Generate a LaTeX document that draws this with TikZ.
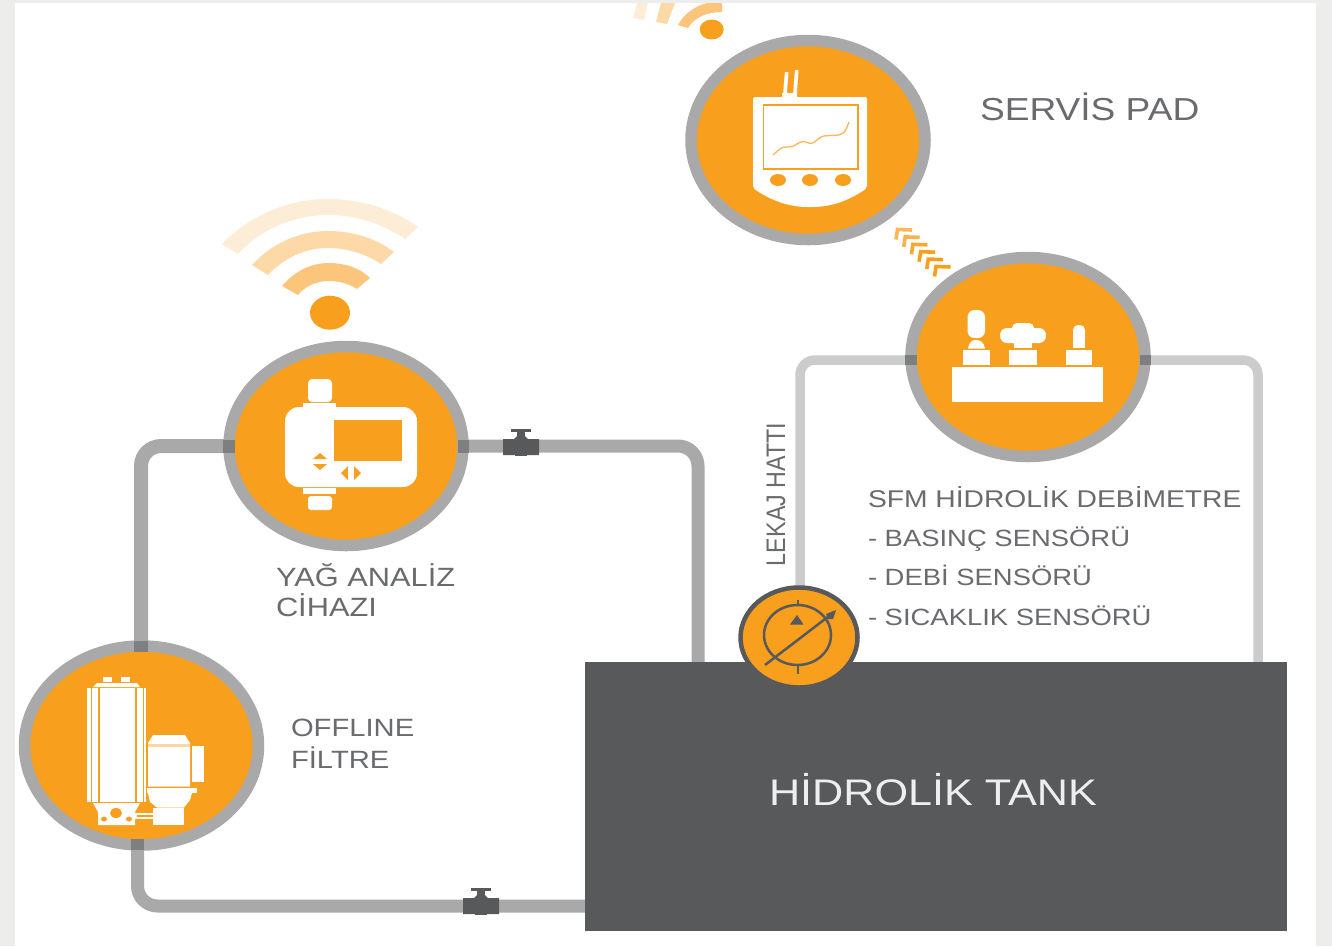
\documentclass[tikz,border=0pt]{standalone}
\usepackage{fontspec}
\setmainfont{Liberation Sans}
\usetikzlibrary{shapes.geometric}
\definecolor{orangeF}{HTML}{F99F1E}
\definecolor{ringG}{HTML}{A9A9A9}
\definecolor{darkG}{HTML}{58595B}
\definecolor{overG}{HTML}{7E7F80}
\definecolor{lightP}{HTML}{CCCCCC}
\definecolor{txtG}{HTML}{6A6B6E}
\definecolor{bgG}{HTML}{EDEDEB}
\definecolor{wa}{HTML}{FBC67C}
\definecolor{wb}{HTML}{FDD9A8}
\definecolor{wc}{HTML}{FEEDD6}
\tikzset{
  x=1pt,y=-1pt,
  bigcirc/.style={ellipse,draw=ringG,fill=orangeF,line width=11.5pt,inner sep=0pt,outer sep=0pt,minimum width=234pt,minimum height=199pt},
  pumpcirc/.style={ellipse,draw=darkG,fill=orangeF,line width=4.5pt,inner sep=0pt,outer sep=0pt,minimum width=117pt,minimum height=100pt},
  tankbox/.style={rectangle,fill=darkG,inner sep=0pt,outer sep=0pt,minimum width=702pt,minimum height=269pt},
  pipeA/.style={draw=ringG,line width=13pt,rounded corners=20pt},
  pipeB/.style={draw=lightP,line width=9.5pt,rounded corners=15pt},
  overA/.style={draw=overG,line width=13pt},
  overB/.style={draw=overG,line width=9.5pt},
  lab/.style={anchor=base west,inner sep=0pt,outer sep=0pt,text=txtG,xscale=1.167,transform shape},
  valvepic/.pic={
    \fill[darkG] (-18,-7) -- (-7,-7) -- (-4,-10) -- (4,-10) -- (7,-7) -- (18,-7) -- (18,9) -- (-18,9) -- cycle;
    \fill[darkG] (-4,-15) rectangle (4,-8);
    \fill[darkG] (-10,-17) rectangle (10,-14.5);
    \fill[darkG] (-6,8) rectangle (6,10);
  }
}
\begin{document}
\begin{tikzpicture}
\useasboundingbox (0,0) rectangle (1332,946);
\fill[bgG] (0,0) rectangle (1332,946);
\fill[white] (15,3) rectangle (1316,946);

% named free ends
\coordinate (leftdrop) at (698,662);
\coordinate (rightdrop) at (1258,662);
\coordinate (lowstart) at (137.5,845);
\coordinate (lowend) at (585,906);
\coordinate (sfmL) at (905,360);
\coordinate (sfmR) at (1151,360);
\coordinate (yagL) at (229,446);
\coordinate (yagR) at (463,446);
\coordinate (pumpN) at (800,600);
\coordinate (filtN) at (141,647);

% pipes
\draw[pipeA] (yagR) -| (leftdrop);
\draw[pipeA,line width=14pt] (yagL) -| (filtN);
\draw[pipeA] (lowstart) |- (lowend);
\draw[pipeB] (sfmL) -| (pumpN);
\draw[pipeB] (sfmR) -| (rightdrop);

% tank and main circles
\node[tankbox] (tank) at (936,796.5) {};
\node[bigcirc] (pad) at (808,140) {};
\node[bigcirc] (yag) at (346,446) {};
\node[bigcirc] (filt) at (141.5,745.5) {};
\node[bigcirc] (sfm) at (1028,357) {};
\node[pumpcirc] (pump) at (799,637.5) {};

% pipe overlaps on the rings
\draw[overA] (223,446) -- (235,446);
\draw[overA] (458,446) -- (469,446);
\draw[overA,line width=14pt] (141,641) -- (141,652);
\draw[overA] (137.5,839) -- (137.5,850);
\draw[overB] (905,360) -- (917,360);
\draw[overB] (1140,360) -- (1151,360);

% valves
\pic at (521,446) {valvepic};
\pic at (481,905) {valvepic};

% wifi large
\fill[wa] (282,286) .. controls (296,270) and (312,263) .. (329,263) .. controls (345,263) and (360,268) .. (370,278) -- (357,289) .. controls (349,284) and (340,281) .. (329,281) .. controls (317,281) and (305,286) .. (298,295) -- cycle;
\fill[wb] (252,265) .. controls (272,243) and (300,231) .. (328,231) .. controls (352,231) and (376,238) .. (394,252) -- (381,264) .. controls (366,254) and (347,248) .. (328,248) .. controls (305,248) and (284,258) .. (268,275) -- cycle;
\fill[wc] (222,244) .. controls (250,215) and (289,199) .. (328,199) .. controls (361,199) and (393,209) .. (418,227) -- (405,239) .. controls (383,224) and (356,215) .. (328,215) .. controls (293,215) and (260,230) .. (238,254) -- cycle;
\fill[orangeF] (330,312.7) ellipse [x radius=20,y radius=17];

% wifi small
\fill[wa] (678,25) .. controls (684,14) and (695,6) .. (707,3) -- (722,3) -- (722,12) .. controls (706,12) and (694,18) .. (688,28) -- cycle;
\fill[wb] (656,22) -- (661,3) -- (675,3) -- (667,24) -- cycle;
\fill[wc] (633,18) -- (637,3) -- (648,3) -- (644,20) -- cycle;
\fill[orangeF] (711.7,29.5) ellipse [x radius=12,y radius=10];

% chevrons
\foreach \i/\o in {0/0.75,1/0.8,2/0.9,3/1,4/1,5/1}{
  \draw[orangeF,opacity=\o,line width=3.6pt] ({912+7.7*\i},{230+7.4*\i}) -- ({897.5+7.7*\i},{229.5+7.4*\i}) -- ({896+7.7*\i},{239.5+7.4*\i});
}

% pad icon
\fill[white] (785,72) .. controls (784,80) and (783.5,88) .. (783,97) -- (787,97) .. controls (787,88) and (788,80) .. (788.5,72) -- cycle;
\fill[white] (795,70) .. controls (794,80) and (793.5,88) .. (793,97) -- (797,97) .. controls (797,88) and (798,80) .. (798.5,70) -- cycle;
\fill[white] (782,93) rectangle (797,98);
\fill[white,rounded corners=2pt] (753,97) -- (867,97) -- (867,188) .. controls (850,200) and (832,207) .. (810,207) .. controls (788,207) and (770,200) .. (753,188) -- cycle;
\draw[orangeF,line width=1.2pt] (763.5,105) rectangle (858,169);
\draw[orangeF!75,line width=1.3pt,rounded corners=3pt] (773,155) -- (782,147) -- (792,147) -- (802,141) -- (812,144) -- (822,136) -- (840,135) -- (845,132) -- (849,122);
\fill[orangeF] (778,180) ellipse [x radius=8,y radius=6];
\fill[orangeF] (810,180) ellipse [x radius=8,y radius=6];
\fill[orangeF] (843,180) ellipse [x radius=8,y radius=6];

% yag icon
\fill[white,rounded corners=4pt] (308,379) rectangle (332,402);
\fill[white] (303,403) rectangle (336,407);
\fill[white,rounded corners=14pt] (285,407) rectangle (417,487);
\fill[white] (303,488) rectangle (336,494);
\fill[white,rounded corners=3pt] (308,496) rectangle (332,510);
\fill[orangeF] (334,420) rectangle (402,461);
\fill[orangeF] (313,459) -- (320,453) -- (327,459) -- cycle;
\fill[orangeF] (313,464) -- (320,470) -- (327,464) -- cycle;
\fill[orangeF] (348,466) -- (341,473) -- (348,480) -- cycle;
\fill[orangeF] (354,466) -- (361,473) -- (354,480) -- cycle;

% filter icon
\fill[white] (87,688) rectangle (90.8,802);
\fill[white] (92,688) rectangle (98,802);
\fill[white] (99.5,688) rectangle (135,802);
\fill[white] (136.5,688) rectangle (142.5,802);
\fill[white] (143.5,688) rectangle (146,802);
\fill[white] (93,687) -- (97,683) -- (137,683) -- (140,687) -- cycle;
\fill[white] (103,677) rectangle (112,682);
\fill[white] (121,677) rectangle (130,682);
\fill[white] (93,803) -- (140,803) -- (135,812) -- (135,825) -- (98,825) -- (98,812) -- cycle;
\fill[orangeF] (116,813) ellipse [x radius=6,y radius=5];
\fill[orangeF] (104,819) ellipse [x radius=3,y radius=2.5];
\fill[orangeF] (129,819) ellipse [x radius=3,y radius=2.5];
\fill[white] (134,813) rectangle (153,819);
\fill[orangeF] (137,815) rectangle (153,816.5);
\fill[white] (148,743) -- (153,735) -- (185,735) -- (190,743) -- (190,786.5) -- (148,786.5) -- cycle;
\fill[orangeF!40] (148,744) rectangle (190,746.5);
\fill[white] (192,746) rectangle (204,782);
\fill[white] (147,787.5) rectangle (197,793);
\fill[white] (148,793) -- (192,793) -- (190,800) -- (184,807.5) -- (157,807.5) -- (150,802) -- cycle;
\fill[white] (153,808) rectangle (184,825);

% sfm icon
\fill[white] (952,367) rectangle (1103,402);
\fill[white] (963,350) rectangle (990,365);
\fill[white] (1009,350) rectangle (1037,365);
\fill[white] (1066,350) rectangle (1092,365);
\fill[white,rounded corners=7pt] (967.5,310) rectangle (985,338);
\fill[white] (968,348.5) .. controls (969,342) and (972,340) .. (976,340) .. controls (980,340) and (984,342) .. (985,348.5) -- cycle;
\fill[white,rounded corners=7pt] (1000,328) rectangle (1046,343);
\fill[white,rounded corners=5pt] (1012,323) rectangle (1034,336);
\fill[white] (1013.5,343) rectangle (1032,348);
\fill[white,rounded corners=5pt] (1073,325) -- (1085,325) -- (1085,346) -- (1073,346) -- cycle;
\fill[white] (1073,340) rectangle (1085,348);

% pump symbol
\draw[darkG,line width=2.5pt] (797.5,635) ellipse [x radius=33.5,y radius=30];
\draw[darkG,line width=2.5pt] (765,665) -- (829,616);
\fill[darkG] (836,610) -- (833,619) -- (828,619) -- (826,614) -- cycle;
\draw[darkG,line width=2pt] (797.5,600) -- (797.5,605);
\draw[darkG,line width=2pt] (797.5,665) -- (797.5,674);
\fill[darkG] (797,615) -- (803.5,624.5) -- (790,624.5) -- cycle;

% labels
\node[lab,font=\fontsize{31.8}{33}\selectfont] (ltpad) at (980,120.5) {SERVİS PAD};
\node[lab,font=\fontsize{26.4}{26}\selectfont] (ltyag1) at (276,586) {YAĞ ANALİZ};
\node[lab,font=\fontsize{26.4}{26}\selectfont] (ltyag2) at (276,616) {CİHAZI};
\node[lab,font=\fontsize{25}{25}\selectfont] (ltfilt1) at (291,736) {OFFLINE};
\node[lab,font=\fontsize{25}{25}\selectfont] (ltfilt2) at (291,768) {FİLTRE};
\node[lab,font=\fontsize{24.2}{24}\selectfont] (ltsfm) at (868,507) {SFM HİDROLİK DEBİMETRE};
\node[lab,font=\fontsize{23.5}{24}\selectfont] (ltbas) at (868,546) {- BASINÇ SENSÖRÜ};
\node[lab,font=\fontsize{23.5}{24}\selectfont] (ltdeb) at (868,585) {- DEBİ SENSÖRÜ};
\node[lab,font=\fontsize{23.5}{24}\selectfont] (ltsic) at (868,625) {- SICAKLIK SENSÖRÜ};
\node[anchor=base west,inner sep=0pt,outer sep=0pt,text=txtG,font=\fontsize{23.3}{23}\selectfont,rotate=90,yscale=1.15,transform shape] (ltlek) at (785,566) {LEKAJ HATTI};
\node[lab,text=white!90!darkG,font=\fontsize{37}{37}\selectfont] (lttank) at (769,805) {HİDROLİK TANK};
\end{tikzpicture}
\end{document}
